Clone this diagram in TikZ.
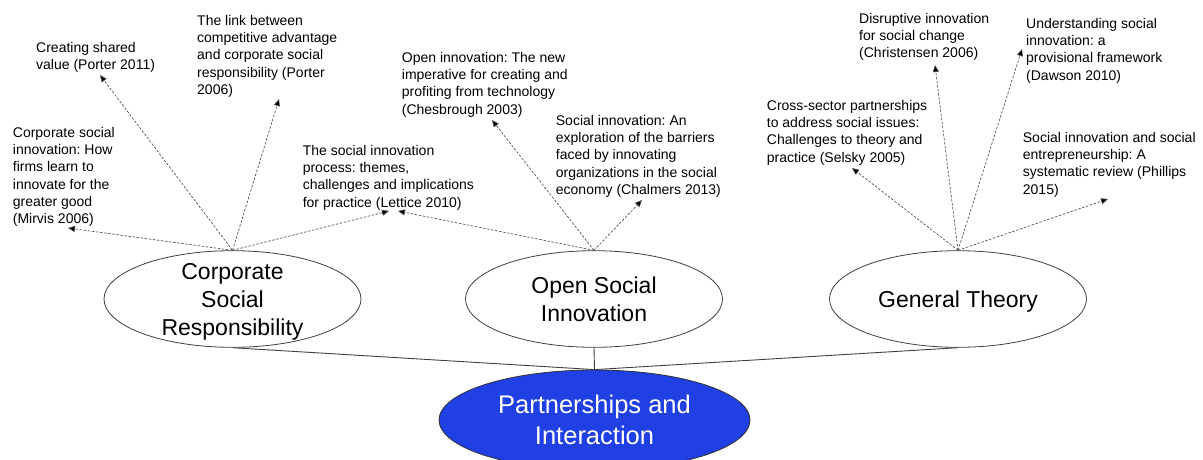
\documentclass[tikz,border=0pt]{standalone}
\usepackage{fontspec}
\setmainfont{Liberation Sans}
\usetikzlibrary{shapes.geometric,arrows.meta}
\definecolor{pblue}{RGB}{33,64,228}
\frenchspacing
\newcommand{\ctrlines}[1]{\raisebox{-9.4pt}[0pt][0pt]{\begin{tabular}{@{}c@{}}#1\end{tabular}}}
\tikzset{
  ref/.style={anchor=north west,inner sep=0pt,align=left,font=\fontsize{14}{17.3}\selectfont},
  topic/.style={ellipse,draw=black!75,line width=0.8pt,inner sep=0pt,minimum width=257pt,minimum height=96.6pt,font=\fontsize{23}{27.8}\selectfont},
  hub/.style={ellipse,draw=black!80,fill=pblue,text=white,line width=0.8pt,inner sep=0pt,minimum width=311pt,minimum height=100pt,align=center,font=\fontsize{25.5}{30.7}\selectfont},
  cite/.style={draw=black!70,line width=0.65pt,dash pattern=on 2.5pt off 1.6pt,-{Triangle[length=7pt,width=6pt,fill=black]}},
  link/.style={draw=black!75,line width=0.9pt}
}
\begin{document}
\begin{tikzpicture}[x=1pt,y=-1pt]
\useasboundingbox (0,0) rectangle (1203,459);
\clip (0,0) rectangle (1203,459);
\fill[white] (0,0) rectangle (1203,459);

% topic ellipses
\node[topic] (csr) at (232.5,299) {\ctrlines{Corporate\\Social\\Responsibility}};
\node[topic] (osi) at (594,299) {\ctrlines{Open Social\\Innovation}};
\node[topic] (gt) at (958,299) {\ctrlines{General Theory}};
\node[hub] (pi) at (594.5,420) {Partnerships and\\Interaction};

\draw[link] (csr.south) -- (pi.north);
\draw[link] (osi.south) -- (pi.north);
\draw[link] (gt.south) -- (pi.north);

% reference texts
\node[ref] (t1) at (36,41.7) {Creating shared\\value (Porter 2011)};
\node[ref] (t2) at (197,15) {The link between\\competitive advantage\\and corporate social\\responsibility (Porter\\2006)};
\node[ref] (t3) at (12.7,127) {Corporate social\\innovation: How\\firms learn to\\innovate for the\\greater good\\(Mirvis 2006)};
\node[ref] (t4) at (302.6,145) {The social innovation\\process: themes,\\challenges and implications\\for practice (Lettice 2010)};
\node[ref] (t5) at (401.7,52) {Open innovation: The new\\imperative for creating and\\profiting from technology\\(Chesbrough 2003)};
\node[ref] (t6) at (555.7,115) {Social innovation: An\\exploration of the barriers\\faced by innovating\\organizations in the social\\economy (Chalmers 2013)};
\node[ref] (t7) at (766.7,100) {Cross-sector partnerships\\to address social issues:\\Challenges to theory and\\practice (Selsky 2005)};
\node[ref] (t8) at (859,13) {Disruptive innovation\\for social change\\(Christensen 2006)};
\node[ref] (t9) at (1026,18) {Understanding social\\innovation: a\\provisional framework\\(Dawson 2010)};
\node[ref] (t10) at (1022.7,132) {Social innovation and social\\entrepreneurship: A\\systematic review (Phillips\\2015)};

% arrow tips
\coordinate (a1) at (100,75);
\coordinate (a2) at (279,99);
\coordinate (a3) at (68,228);
\coordinate (a4) at (389,211);
\coordinate (a4b) at (398,211);
\coordinate (a5) at (492,120);
\coordinate (a6) at (642,200);
\coordinate (a7) at (852,168);
\coordinate (a8) at (935,65);
\coordinate (a9) at (1022,49);
\coordinate (a10) at (1108,199);

\draw[cite] (csr.north) -- (a1);
\draw[cite] (csr.north) -- (a2);
\draw[cite] (csr.north) -- (a3);
\draw[cite] (csr.north) -- (a4);
\draw[cite] (osi.north) -- (a4b);
\draw[cite] (osi.north) -- (a5);
\draw[cite] (osi.north) -- (a6);
\draw[cite] (gt.north) -- (a7);
\draw[cite] (gt.north) -- (a8);
\draw[cite] (gt.north) -- (a9);
\draw[cite] (gt.north) -- (a10);
\end{tikzpicture}
\end{document}
